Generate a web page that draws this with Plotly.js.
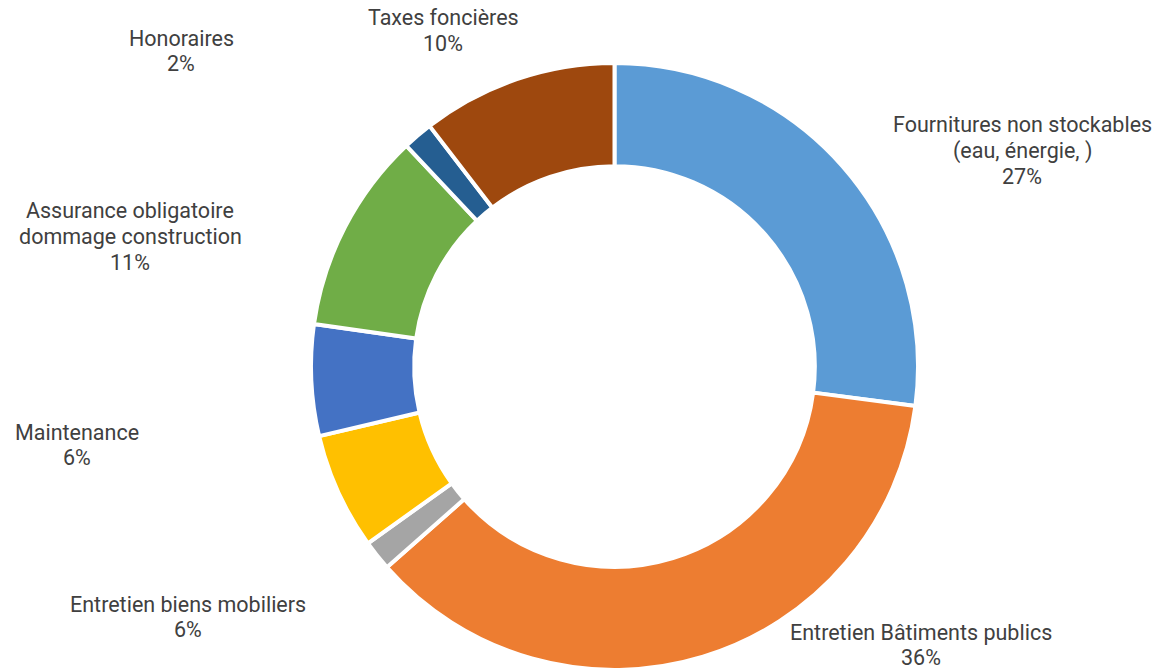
<!DOCTYPE html>
<html>
<head>
<meta charset="utf-8">
<script src="https://cdn.plot.ly/plotly-3.0.1.min.js"></script>
<style>html,body{margin:0;padding:0;background:#fff;}#chart{width:1155px;height:670px;}</style>
</head>
<body>
<div id="chart"></div>
<script>
// Data (slices clockwise from 12 o'clock)
const categories = [
  "Fournitures non stockables|(eau, énergie, )",
  "Entretien Bâtiments publics",
  "",
  "Entretien biens mobiliers",
  "Maintenance",
  "Assurance obligatoire|dommage construction",
  "Honoraires",
  "Taxes foncières"
];
const values = [27, 36.3, 1.6, 6.2, 5.9, 10.7, 1.6, 10.4];
const colors = ["#5B9BD5", "#ED7D31", "#A5A5A5", "#FFC000", "#4472C4", "#70AD47", "#255E91", "#9E480E"];

// Label placement: pixel centre x and first-line y of each label block
const labelPos = [
  [1022, 125], [921, 632], null, [188, 604], [77, 432], [130, 211], [181, 38], [443, 18]
];
const lineStep = 25.7;

const W = 1155, H = 670;
const total = values.reduce((a, b) => a + b, 0);
const annotations = [];
categories.forEach((c, i) => {
  if (!labelPos[i] || !c) return;
  const pct = Math.round(values[i] / total * 100) + "%";
  const lines = c.split("|").concat([pct]);
  lines.forEach((ln, k) => {
    annotations.push({
      x: labelPos[i][0] / W, y: 1 - (labelPos[i][1] + k * lineStep) / H,
      xref: "paper", yref: "paper",
      xanchor: "center", yanchor: "middle",
      text: ln,
      showarrow: false, align: "center",
      font: {family: "Roboto, sans-serif", size: 21.5, color: "#404040"}
    });
  });
});

const trace = {
  type: "pie",
  values: values,
  labels: categories.map((c, i) => c ? c.replace("|", " ") : "Autre"),
  marker: {colors: colors, line: {color: "#ffffff", width: 4}},
  hole: 0.66,
  sort: false,
  direction: "clockwise",
  rotation: 0,
  textinfo: "none",
  hoverinfo: "label+percent",
  domain: {x: [310 / W, 919 / W], y: [0 / H, 607 / H]}
};

Plotly.newPlot("chart", [trace], {
  width: W, height: H,
  margin: {l: 0, r: 0, t: 0, b: 0},
  showlegend: false,
  paper_bgcolor: "#ffffff",
  annotations: annotations
}, {displayModeBar: false});
</script>
</body>
</html>
